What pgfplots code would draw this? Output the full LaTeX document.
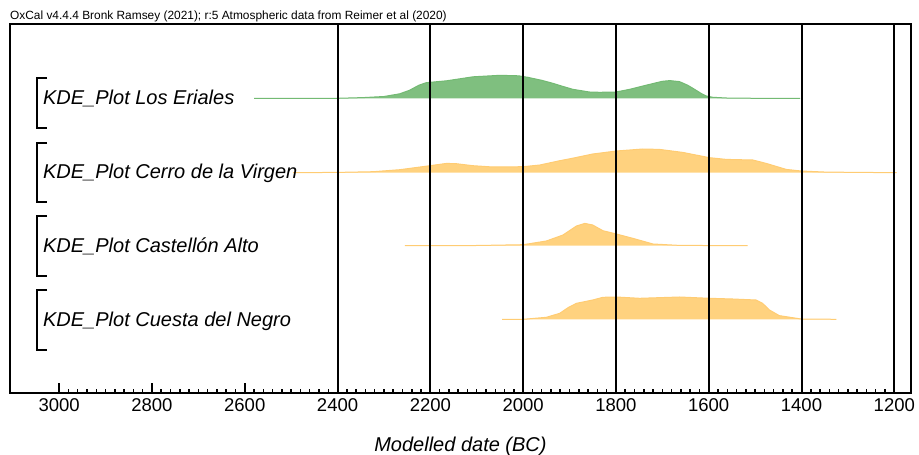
\documentclass[border=0pt]{standalone}
\usepackage{pgfplots}
\usepackage{pgfplotstable}
\pgfplotsset{compat=1.18}
\usepackage{fontspec}
\setmainfont{Liberation Sans}
\definecolor{kdegreen}{RGB}{127,191,127}
\definecolor{kdegreenline}{RGB}{115,186,115}
\definecolor{kdeorange}{RGB}{255,210,127}
\definecolor{kdeorangeline}{RGB}{255,204,115}

\pgfplotstableread{
year h
2580 0
2400 0
2345 0.7
2300 1.8
2266 4.5
2245 8
2225 13
2210 15.5
2200 16
2165 17.5
2108 21.5
2050 23
2010 22.5
1990 21
1960 18
1936 15
1915 12
1893 9
1857 6.3
1835 6
1800 6.3
1770 9
1742 12.3
1700 17
1684 17.7
1663 16.7
1645 13
1634 10
1615 4.5
1605 2.3
1591 1
1562 0.3
1500 0
1403 0
}\eriales

\pgfplotstableread{
year h
2496 0
2400 0.3
2323 1
2266 3
2201 7
2165 9.3
2144 9
2108 7
2065 5.7
2000 6
1964 7.7
1921 12
1893 14.5
1850 18.7
1799 21.7
1742 23.7
1706 23.3
1656 20.3
1598 15
1562 13.3
1505 12.7
1476 9.3
1433 3.3
1401 1.7
1347 0.6
1195 0
}\virgen

\pgfplotstableread{
year h
2255 0
2100 0.2
2000 1
1950 4.7
1914 10.7
1885 19.7
1867 22.3
1850 20.7
1828 15
1799 11.7
1763 7.3
1720 1.7
1663 0.3
1516 0
}\castellon

\pgfplotstableread{
year h
2045 0
1999 0
1950 2
1921 6
1903 11.7
1885 16
1850 19.3
1828 22
1799 22.3
1749 21
1663 22.3
1598 21
1548 20.3
1498 19.3
1484 16
1469 9.3
1448 3.7
1401 0.3
1325 0
}\cuesta

\begin{document}
\begin{tikzpicture}
\useasboundingbox (-10pt,-62pt) rectangle (909pt,393pt);
\begin{axis}[
  scale only axis,
  width=901pt, height=369pt,
  xmin=1164, xmax=3106, ymin=0, ymax=369,
  x dir=reverse,
  clip=false,
  axis on top,
  axis line style={line width=2pt, black},
  xtick={1200,1400,...,3000},
  minor x tick num=9,
  ytick=\empty,
  xtick pos=bottom,
  tick align=inside,
  major tick length=10pt,
  minor tick length=3.5pt,
  major tick style={line width=2pt, black},
  minor tick style={line width=1.5pt, black},
  extra x ticks={2400,2200,2000,1800,1600,1400,1200},
  extra x tick labels={},
  extra x tick style={grid=major, major tick length=0pt},
  major grid style={line width=2pt, black},
  scaled x ticks=false,
  /pgf/number format/assume math mode=true,
  /pgf/number format/set thousands separator={},
  xticklabel style={font=\fontsize{18.5}{20}\selectfont, inner sep=0pt, yshift=-5pt},
  xlabel={\itshape Modelled date (BC)},
  xlabel style={font=\fontsize{20}{22}\selectfont, at={(axis description cs:0.5,0)}, anchor=base, yshift=-58pt},
]
\addplot[fill=kdegreen, draw=kdegreenline, line width=1pt] table[x=year, y expr=\thisrow{h}+294.7] {\eriales};
\addplot[fill=kdeorange, draw=kdeorangeline, line width=1pt] table[x=year, y expr=\thisrow{h}+220.3] {\virgen};
\addplot[fill=kdeorange, draw=kdeorangeline, line width=1pt] table[x=year, y expr=\thisrow{h}+147.3] {\castellon};
\addplot[fill=kdeorange, draw=kdeorangeline, line width=1pt] table[x=year, y expr=\thisrow{h}+73.7] {\cuesta};

\draw[line width=2.5pt, line join=miter] (axis cs:3026,315) -- (axis cs:3048,315) -- (axis cs:3048,265) -- (axis cs:3026,265);
\draw[line width=2.5pt, line join=miter] (axis cs:3026,250) -- (axis cs:3048,250) -- (axis cs:3048,191) -- (axis cs:3026,191);
\draw[line width=2.5pt, line join=miter] (axis cs:3026,177) -- (axis cs:3048,177) -- (axis cs:3048,117) -- (axis cs:3026,117);
\draw[line width=2.5pt, line join=miter] (axis cs:3026,103) -- (axis cs:3048,103) -- (axis cs:3048,43) -- (axis cs:3026,43);

\node[anchor=base west, inner sep=0pt, font=\fontsize{20}{22}\selectfont\itshape] at (axis cs:3035,288.7) {KDE\_Plot Los Eriales};
\node[anchor=base west, inner sep=0pt, font=\fontsize{20}{22}\selectfont\itshape] at (axis cs:3035,214.7) {KDE\_Plot Cerro de la Virgen};
\node[anchor=base west, inner sep=0pt, font=\fontsize{20}{22}\selectfont\itshape] at (axis cs:3035,140.7) {KDE\_Plot Castellón Alto};
\node[anchor=base west, inner sep=0pt, font=\fontsize{20}{22}\selectfont\itshape] at (axis cs:3035,66.3) {KDE\_Plot Cuesta del Negro};

\node[anchor=base west, inner sep=0pt, font=\fontsize{11.9}{13}\selectfont] at (axis cs:3106,373) {\underline{OxCal v4.4.4 Bronk Ramsey (2021); r:5 Atmospheric data from Reimer et al (2020)}};
\end{axis}
\end{tikzpicture}
\end{document}
